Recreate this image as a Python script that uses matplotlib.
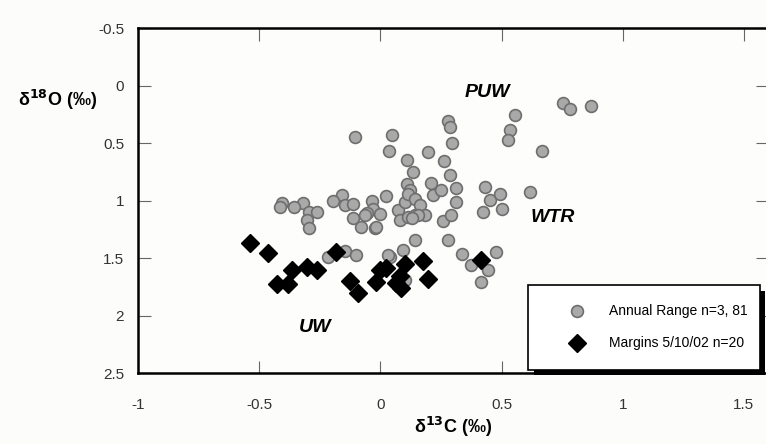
import matplotlib
matplotlib.use("Agg")
import matplotlib.pyplot as plt
import matplotlib.patheffects as pe

plt.rcParams['font.family'] = ['Liberation Sans', 'DejaVu Sans']
plt.rcParams['mathtext.default'] = 'regular'

# annual range samples (d13C, d18O)
annual_c = [-0.105, 0.046, 0.036, 0.108, 0.134, 0.108, 0.122, 0.023, -0.036, -0.16,
            -0.195, -0.146, -0.112, -0.03, -0.057, -0.318, -0.295, -0.263, -0.355, -0.407,
            -0.414, -0.304, -0.295, -0.112, -0.078, -0.064, -0.023, 0.073, 0.08, 0.10,
            0.115, 0.142, 0.163, 0.115, 0.142, 0.183, 0.156, 0.211, 0.217, 0.252,
            0.314, 0.314, 0.259, 0.293, 0.431, 0.452, 0.493, 0.50, 0.424, 0.616,
            0.142, 0.094, 0.28, 0.335, 0.376, 0.479, 0.445, 0.417, 0.039, 0.10,
            -0.215, -0.146, -0.10, 0.129, 0.28, 0.287, 0.297, 0.197, 0.555, 0.534,
            0.527, 0.669, 0.754, 0.781, 0.87, 0.263, 0.287, 0.032, -0.016, 0.0]
annual_o = [0.45, 0.43, 0.57, 0.65, 0.75, 0.86, 0.91, 0.96, 1.00, 0.95,
            1.00, 1.04, 1.03, 1.07, 1.11, 1.02, 1.10, 1.10, 1.06, 1.02,
            1.06, 1.17, 1.24, 1.155, 1.23, 1.126, 1.24, 1.08, 1.17, 1.01,
            0.94, 0.99, 1.04, 1.14, 1.13, 1.13, 1.13, 0.845, 0.95, 0.91,
            0.89, 1.01, 1.18, 1.13, 0.88, 0.996, 0.94, 1.07, 1.10, 0.93,
            1.34, 1.43, 1.34, 1.465, 1.56, 1.45, 1.60, 1.71, 1.49, 1.69,
            1.49, 1.44, 1.47, 1.155, 0.306, 0.36, 0.497, 0.576, 0.257, 0.387,
            0.474, 0.567, 0.15, 0.20, 0.18, 0.66, 0.78, 1.47, 1.23, 1.12]

# margins 5/10/02
margin_c = [-0.538, -0.465, -0.364, -0.304, -0.26, -0.428, -0.38, -0.184, -0.126, -0.094,
            -0.002, 0.025, -0.016, 0.08, 0.10, 0.066, 0.087, 0.176, 0.197, 0.417]
margin_o = [1.367, 1.46, 1.60, 1.575, 1.60, 1.73, 1.73, 1.45, 1.70, 1.80,
            1.60, 1.59, 1.71, 1.66, 1.55, 1.72, 1.76, 1.53, 1.68, 1.52]

x_ticks = [-1, -0.5, 0, 0.5, 1, 1.5]
x_labels = ['-1', '-0.5', '0', '0.5', '1', '1.5']
y_ticks = [-0.5, 0, 0.5, 1, 1.5, 2, 2.5]
y_labels = ['-0.5', '0', '0.5', '1', '1.5', '2', '2.5']

water_labels = ['PUW', 'WTR', 'UW']
water_c = [0.44, 0.71, -0.27]
water_o = [0.06, 1.15, 2.1]

fig = plt.figure(figsize=(7.66, 4.44), dpi=100, facecolor='#fcfcfa')
ax = fig.add_axes([0.1802, 0.1599, 0.8225, 0.777])
ax.set_facecolor('#fdfdfb')

ax.plot(annual_c, annual_o, 'o', ms=8.5, mfc='#a9a9a9', mec='#6e6e6e', mew=1.2,
        label='Annual Range n=3, 81', zorder=3)
ax.plot(margin_c, margin_o, 'D', ms=9, mfc='black', mec='black',
        label='Margins 5/10/02 n=20', zorder=4)

for name, c, o in zip(water_labels, water_c, water_o):
    ax.text(c, o, name, fontsize=14, fontweight='bold', fontstyle='italic',
            ha='center', va='center')

ax.set_xlim(-1, 1.6)
ax.set_ylim(2.5, -0.5)
ax.set_xticks(x_ticks)
ax.set_xticklabels(x_labels)
ax.set_yticks(y_ticks)
ax.set_yticklabels(y_labels)
ax.tick_params(direction='in', length=9, width=0.8, color='#666666',
               labelsize=11, labelcolor='#333333', top=True, right=True)
ax.tick_params(axis='x', pad=18)
ax.tick_params(axis='y', pad=10)
for s in ax.spines.values():
    s.set_linewidth(1.8)

ax.set_xlabel('δ$^{\\mathbf{13}}$C (‰)', fontsize=13, fontweight='bold', labelpad=2)
fig.text(0.075, 0.775, 'δ$^{\\mathbf{18}}$O (‰)', fontsize=13, fontweight='bold',
         ha='center', va='center')

leg = ax.legend(loc='lower left', bbox_to_anchor=(0.619, 0.009, 0.368, 0.252),
                mode='expand', fontsize=10, frameon=True, fancybox=False,
                framealpha=1, borderpad=1.4, labelspacing=1.3, handlelength=4.2,
                handletextpad=0.2, borderaxespad=0)
frame = leg.get_frame()
frame.set_facecolor('white')
frame.set_edgecolor('black')
frame.set_linewidth(1.2)
frame.set_path_effects([pe.SimplePatchShadow(offset=(4, -4), shadow_rgbFace='black', alpha=1),
                        pe.Normal()])

fig.savefig('out.png', dpi=100, facecolor=fig.get_facecolor())
